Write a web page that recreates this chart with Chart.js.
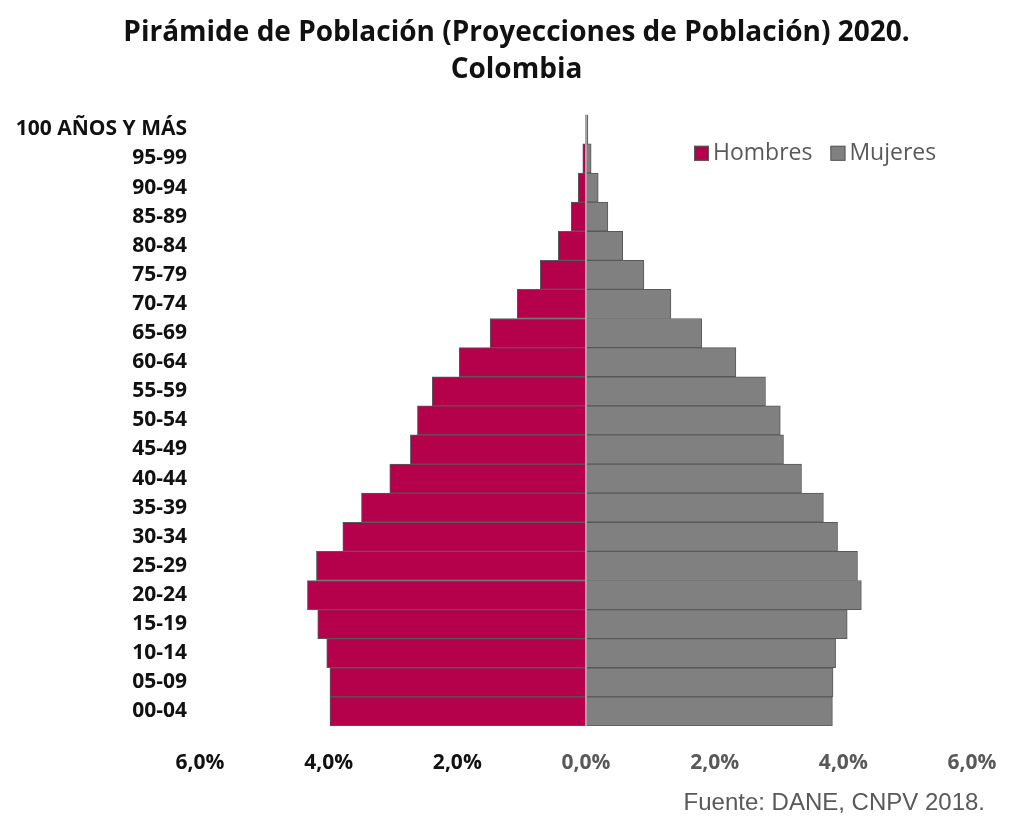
<!DOCTYPE html>
<html>
<head>
<meta charset="utf-8">
<script src="https://cdn.jsdelivr.net/npm/chart.js@4.4.1/dist/chart.umd.min.js"></script>
<style>
  html, body { margin: 0; padding: 0; background: #fff; }
  #wrap { width: 1010px; height: 817px; }
</style>
</head>
<body>
<div id="wrap"><canvas id="chart-piramide"></canvas></div>
<script>
const grupos = ["100 AÑOS Y MÁS", "95-99", "90-94", "85-89", "80-84", "75-79", "70-74", "65-69",
  "60-64", "55-59", "50-54", "45-49", "40-44", "35-39", "30-34", "25-29", "20-24", "15-19",
  "10-14", "05-09", "00-04"];
const hombres = [0.01, 0.05, 0.12, 0.23, 0.43, 0.71, 1.07, 1.49, 1.97, 2.39, 2.62, 2.73, 3.05,
  3.49, 3.78, 4.19, 4.33, 4.17, 4.03, 3.98, 3.98];
const mujeres = [0.03, 0.08, 0.19, 0.34, 0.57, 0.90, 1.32, 1.80, 2.33, 2.79, 3.02, 3.07, 3.35,
  3.69, 3.91, 4.22, 4.28, 4.06, 3.88, 3.84, 3.83];
const ticksX = [-6, -4, -2, 0, 2, 4, 6];

const ROJO = "#b5004b";
const GRIS = "#808080";
const BORDE = "#595959";

// linea del cero + leyenda dentro del area
const extras = {
  id: "extras",
  afterLayout(chart) {
    // el titulo del original esta un poco corrido a la derecha
    if (chart.titleBlock) chart.titleBlock.left += 38;
  },
  afterDatasetsDraw(chart) {
    const ctx = chart.ctx;
    const area = chart.chartArea;
    const x0 = chart.scales.x.getPixelForValue(0);
    ctx.save();
    ctx.strokeStyle = "#a6a6a6";
    ctx.lineWidth = 2;
    ctx.beginPath();
    ctx.moveTo(x0, area.top);
    ctx.lineTo(x0, area.bottom);
    ctx.stroke();

    let x = area.right - 278;
    const y = area.top + 39;
    ctx.font = "23px 'Open Sans'";
    ctx.textBaseline = "middle";
    chart.data.datasets.forEach(function (ds) {
      ctx.fillStyle = ds.backgroundColor;
      ctx.strokeStyle = BORDE;
      ctx.lineWidth = 1;
      ctx.fillRect(x, y - 8, 15, 15);
      ctx.strokeRect(x + 0.5, y - 7.5, 14, 14);
      ctx.fillStyle = BORDE;
      ctx.fillText(ds.label, x + 19, y);
      x += 19 + ctx.measureText(ds.label).width + 18;
    });
    ctx.restore();
  }
};

new Chart(document.getElementById("chart-piramide"), {
  type: "bar",
  data: {
    labels: grupos,
    datasets: [
      {
        label: "Hombres",
        data: hombres.map(function (v) { return -v; }),
        backgroundColor: ROJO,
        borderColor: BORDE,
        borderWidth: 1,
        categoryPercentage: 1,
        barPercentage: 1
      },
      {
        label: "Mujeres",
        data: mujeres,
        backgroundColor: GRIS,
        borderColor: BORDE,
        borderWidth: 1,
        categoryPercentage: 1,
        barPercentage: 1
      }
    ]
  },
  options: {
    indexAxis: "y",
    responsive: true,
    maintainAspectRatio: false,
    animation: false,
    layout: { padding: { left: 10, right: 25, top: 0, bottom: 2 } },
    plugins: {
      legend: { display: false },
      tooltip: { enabled: false },
      title: {
        display: true,
        text: ["Pirámide de Población (Proyecciones de Población) 2020.", "Colombia"],
        color: "#111",
        font: { family: "'Open Sans'", size: 28, weight: "bold", lineHeight: 1.3 },
        padding: { top: 15, bottom: 27 }
      },
      subtitle: {
        display: true,
        position: "bottom",
        align: "end",
        text: "Fuente: DANE, CNPV 2018.",
        color: BORDE,
        font: { family: "'Liberation Sans', Arial", size: 24, lineHeight: 1 },
        padding: { top: 0, bottom: 0 }
      }
    },
    scales: {
      x: {
        stacked: true,
        min: -6,
        max: 6,
        afterBuildTicks(scale) {
          scale.ticks = ticksX.map(function (v) { return { value: v }; });
        },
        afterFit(scale) {
          scale.height = 65;
          scale.paddingLeft = 0;
          scale.paddingRight = 38;
        },
        grid: { display: false, drawTicks: false },
        border: { display: false },
        ticks: {
          padding: 24,
          maxRotation: 0,
          color: function (c) { return c.tick.value < 0 ? "#111" : BORDE; },
          font: { family: "'Open Sans'", size: 21, weight: "bold" },
          callback: function (v) { return Math.abs(v).toFixed(1).replace(".", ",") + "%"; }
        }
      },
      y: {
        stacked: true,
        afterFit(scale) { scale.width = 190; },
        grid: { display: false, drawTicks: false },
        border: { display: false },
        ticks: {
          padding: 13,
          autoSkip: false,
          color: "#111",
          font: { family: "'Open Sans'", size: 21, weight: "bold" }
        }
      }
    }
  },
  plugins: [extras]
});
</script>
</body>
</html>
